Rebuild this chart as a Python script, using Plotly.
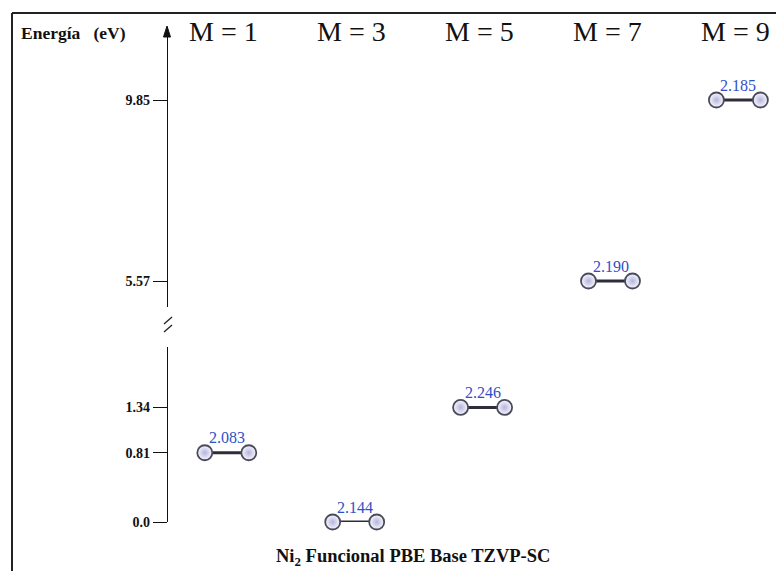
import plotly.graph_objects as go

# ---- data ----
multiplicity = [1, 3, 5, 7, 9]
energy_ev = [0.81, 0.0, 1.34, 5.57, 9.85]
bond_length = ["2.083", "2.144", "2.246", "2.190", "2.185"]
header_labels = ["M = 1", "M = 3", "M = 5", "M = 7", "M = 9"]
tick_vals_low = [0.0, 0.81, 1.34]
tick_text_low = ["0.0", "0.81", "1.34"]
tick_vals_high = [5.57, 9.85]
tick_text_high = ["5.57", "9.85"]
break_threshold = 3.0
half_bond = 0.344

W, H = 776, 571
HE = 563.0  # effective vertical scale used for paper coordinates


def py(px):
    return 1 - px / HE


def pxx(px):
    return px / W


SERIF = "Liberation Serif"

fig = go.Figure()

annotations = []
for m, e, bl in zip(multiplicity, energy_ev, bond_length):
    ya = "y" if e < break_threshold else "y2"
    fig.add_trace(go.Scatter(
        x=[m - half_bond, m + half_bond], y=[e, e],
        mode="lines+markers", yaxis=ya, xaxis="x",
        line=dict(color="#2e2e3a", width=3),
        marker=dict(size=15, color="#f8f8ff", symbol="circle",
                    gradient=dict(type="radial", color="#b4b4dc"),
                    line=dict(color="#4a4a5a", width=1.8)),
        cliponaxis=False, hoverinfo="skip", showlegend=False,
    ))
    annotations.append(dict(
        x=m, y=e, xref="x", yref=ya, text=bl, showarrow=False,
        yshift=15, font=dict(family=SERIF, size=16, color="#2f4fc8"),
    ))

# column headers
for m, lab in zip(multiplicity, header_labels):
    annotations.append(dict(
        x=m, y=py(31), xref="x", yref="paper", text=lab,
        showarrow=False, xanchor="center", yanchor="middle", xshift=-3,
        font=dict(family=SERIF, size=28, color="#111"),
    ))

axis_x_paper = 167 / W
annotations += [
    dict(x=19 / W, y=py(33), xref="paper", yref="paper",
         text="<b>Energía&nbsp;&nbsp;&nbsp;(eV)</b>",
         showarrow=False, xanchor="left", yanchor="middle",
         font=dict(family=SERIF, size=17.5, color="#111")),
    dict(x=413 / W, y=py(557), xref="paper", yref="paper",
         text="<b>Ni<sub>2</sub> Funcional PBE Base TZVP-SC</b>",
         showarrow=False, xanchor="center", yanchor="middle",
         font=dict(family=SERIF, size=18.5, color="#111")),
]

arrow_path = "M {:.5f},{:.5f} L {:.5f},{:.5f} L {:.5f},{:.5f} Z".format(
    pxx(167), py(26), pxx(163.5), py(37), pxx(170.5), py(37))

shapes = [
    # frame
    dict(type="line", xref="paper", yref="paper", x0=12 / W, x1=1, y0=py(13), y1=py(13),
         line=dict(color="#222", width=2)),
    dict(type="line", xref="paper", yref="paper", x0=12 / W, x1=12 / W, y0=-0.05, y1=py(13),
         line=dict(color="#222", width=2)),
    # arrow head at top of the energy axis
    dict(type="path", xref="paper", yref="paper", path=arrow_path,
         fillcolor="#111", line=dict(color="#111", width=1)),
    # axis break marks
    dict(type="line", xref="paper", yref="paper", x0=164 / W, x1=172 / W,
         y0=py(324), y1=py(317), line=dict(color="#222", width=1.3)),
    dict(type="line", xref="paper", yref="paper", x0=164 / W, x1=172 / W,
         y0=py(332), y1=py(325), line=dict(color="#222", width=1.3)),
]

ytick_font = dict(family=SERIF, size=14, color="#111", weight="bold")
common_y = dict(anchor="free", position=axis_x_paper, showgrid=False, zeroline=False,
                showline=True, linecolor="#111", linewidth=1.3,
                ticks="outside", ticklen=14, tickwidth=1.3, tickcolor="#111",
                tickfont=ytick_font, fixedrange=True)

fig.update_layout(
    width=W, height=H, margin=dict(l=0, r=0, t=0, b=0),
    paper_bgcolor="white", plot_bgcolor="white",
    xaxis=dict(domain=[0, 1], range=[-2.5465, 9.588], visible=False, fixedrange=True),
    yaxis=dict(domain=[py(522), py(347)], range=[0, 2.047],
               tickvals=tick_vals_low, ticktext=tick_text_low, **common_y),
    yaxis2=dict(domain=[py(307), py(28)], range=[4.9552, 11.5525],
                tickvals=tick_vals_high, ticktext=tick_text_high, **common_y),
    annotations=annotations, shapes=shapes, showlegend=False,
)

fig.write_html("out.html")
